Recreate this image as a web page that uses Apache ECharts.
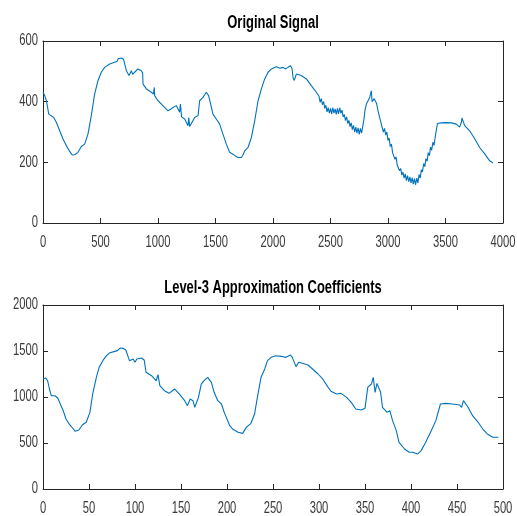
<!DOCTYPE html>
<html>
<head>
<meta charset="utf-8">
<script src="https://cdn.jsdelivr.net/npm/echarts@6/dist/echarts.min.js"></script>
<style>html,body{margin:0;padding:0;background:#fff}#c{width:517px;height:516px}</style>
</head>
<body>
<div id="c"></div>
<script>
// Original signal: sample positions and values
const topX = [0,15,30,50,60,70,80,93,116,145,174,203,232,255,275,304,333,362,391,420,449,478,507,536,580,623,645,652,681,700,710,725,748,760,768,780,797,826,855,866,870,899,942,960,968,971,1000,1043,1087,1110,1130,1159,1180,1188,1195,1205,1232,1261,1268,1275,1290,1319,1335,1348,1362,1391,1420,1440,1449,1465,1478,1490,1507,1536,1565,1594,1623,1652,1670,1696,1725,1740,1754,1783,1812,1841,1870,1899,1928,1957,1986,2029,2060,2087,2110,2130,2151,2165,2174,2185,2203,2220,2246,2290,2333,2377,
  2400,2410,2420,2430,2440,2450,2460,2470,2480,2490,2500,2510,2520,2530,2540,2550,2560,2570,2580,2590,2600,2610,2620,2630,2640,2650,2660,2670,2680,2690,2700,2710,2720,2730,2740,2750,2760,2770,2780,2790,2800,
  2812,2841,2855,2862,2870,2880,2893,2900,2913,2942,
  2950,2960,2970,2980,2990,3000,3010,3020,3030,3040,3050,3060,3070,3080,3090,3100,3110,3120,3130,3140,3150,3160,3170,3180,3190,3200,3210,3220,3230,3240,3250,3260,3270,3280,3290,3300,3310,3320,3330,3340,3350,3360,3370,3380,3390,3400,3410,3420,3430,
  3464,3500,3551,3594,3623,3638,3643,3667,3710,3754,3797,3841,3884,3913];
const topY = [431,420,403,359,362,354,357,348,332,304,277,255,236,224,225,233,252,260,293,354,425,469,497,513,524,530,533,541,544,540,535,502,486,495,502,490,497,508,502,495,458,442,431,425,447,420,403,387,370,375,381,387,372,365,392,350,343,321,348,318,315,348,350,354,403,414,431,420,414,380,359,360,343,326,293,260,233,227,222,216,216,225,238,249,282,337,403,442,475,497,508,515,510,513,508,513,519,510,480,470,491,485,486,475,453,431,
  418,398,410,390,400,378,388,366,380,362,378,360,380,362,376,358,378,360,380,362,372,350,358,338,350,328,338,318,330,308,322,300,316,296,314,292,312,296,318,340,372,
  392,414,436,400,398,410,414,395,370,326,
  320,300,312,290,300,272,280,252,260,232,238,210,218,192,198,172,180,158,168,148,162,140,156,136,152,132,150,128,146,126,148,132,160,148,176,168,196,186,212,204,232,222,250,240,266,256,282,276,328,
  330,331,330,326,316,332,346,321,304,278,249,228,205,198];

// Level-3 approximation coefficients
const botX = [0,3,5,7,9,11,13,14,16,18,22,25,29,33,35,37,39,43,47,51,54,58,61,65,69,72,78,81,84,87,90,94,96,98,100,102,107,110,112,118,123,125,127,132,137,143,148,154,157,160,163,165,169,172,175,179,183,186,190,194,197,203,206,212,217,221,226,230,233,237,241,244,248,253,259,264,269,271,275,278,282,288,293,299,304,310,313,319,324,330,335,340,346,350,353,357,359,361,363,367,369,374,377,380,384,387,393,398,402,407,411,416,422,427,432,438,445,453,455,457,462,467,473,478,483,489,495];
const botY = [1196,1206,1177,1087,1014,996,1014,996,989,942,851,761,699,652,627,630,641,699,725,833,1033,1214,1322,1395,1449,1478,1496,1504,1533,1529,1511,1395,1384,1413,1377,1413,1424,1402,1268,1232,1177,1243,1123,1069,1040,1087,1033,960,906,978,960,888,996,1141,1177,1214,1159,1051,960,924,833,688,652,616,605,670,714,815,996,1214,1304,1395,1431,1449,1442,1431,1456,1431,1330,1377,1366,1348,1304,1250,1196,1105,1062,1033,1040,996,942,870,859,877,1105,1141,1214,1051,1148,1051,888,833,851,743,634,507,435,399,399,380,417,507,634,743,924,931,924,913,888,960,888,797,725,652,598,562,562];

const titles = ['Original Signal', 'Level-3 Approximation Coefficients'];
const topXTicks = {min: 0, max: 4000, interval: 500};
const topYTicks = {min: 0, max: 600, interval: 200};
const botXTicks = {min: 0, max: 500, interval: 50};
const botYTicks = {min: 0, max: 2000, interval: 500};

const AX = '#262626';
const LABEL_FONT = '16px "Liberation Sans", Arial, sans-serif';
const SQUEEZE = 0.7;
function axis(grid, pos, t) {
  return {
    type: 'value', gridIndex: grid, position: pos, min: t.min, max: t.max, interval: t.interval,
    axisLine: {show: true, onZero: false, lineStyle: {color: AX, width: 1}},
    axisTick: {show: true, inside: true, length: 5, lineStyle: {color: AX}},
    splitLine: {show: false},
    axisLabel: {show: false}
  };
}
function titleText(txt, y) {
  return {
    type: 'text', x: 273, y: y, scaleX: 0.72, scaleY: 1, silent: true,
    style: {text: txt, font: 'bold 18px "Liberation Sans", Arial, sans-serif', fill: '#000',
      textAlign: 'center', textVerticalAlign: 'middle'}
  };
}
function ticks(t) { const a = []; for (let v = t.min; v <= t.max; v += t.interval) a.push(v); return a; }

const chart = echarts.init(document.getElementById('c'), null, {renderer: 'canvas'});
chart.setOption({
  animation: false,
  backgroundColor: '#fff',
  grid: [
    {left: 43, top: 41, width: 460, height: 182, containLabel: false, outerBoundsMode: 'none'},
    {left: 43, top: 305, width: 460, height: 184, containLabel: false, outerBoundsMode: 'none'}
  ],
  xAxis: [axis(0, 'bottom', topXTicks), axis(0, 'top', topXTicks), axis(1, 'bottom', botXTicks), axis(1, 'top', botXTicks)],
  yAxis: [axis(0, 'left', topYTicks), axis(0, 'right', topYTicks), axis(1, 'left', botYTicks), axis(1, 'right', botYTicks)],
  series: [
    {type: 'line', xAxisIndex: 0, yAxisIndex: 0, showSymbol: false, data: topX.map((x, i) => [x, topY[i]]), lineStyle: {color: '#0072BD', width: 1.1}, itemStyle: {color: '#0072BD'}},
    {type: 'line', xAxisIndex: 2, yAxisIndex: 2, showSymbol: false, data: botX.map((x, i) => [x, botY[i]]), lineStyle: {color: '#0072BD', width: 1.1}, itemStyle: {color: '#0072BD'}}
  ]
});

// Tick labels placed through the axes' own scales (narrow MATLAB-like lettering)
const gfx = [titleText(titles[0], 23), titleText(titles[1], 288)];
function addLabels(xi, yi, xt, yt) {
  const finder = {xAxisIndex: xi, yAxisIndex: yi};
  ticks(xt).forEach(v => {
    const p = chart.convertToPixel(finder, [v, yt.min]);
    gfx.push({type: 'text', x: p[0], y: p[1] + 20, scaleX: SQUEEZE, silent: true,
      style: {text: String(v), font: LABEL_FONT, fill: '#3a3a3a', textAlign: 'center', textVerticalAlign: 'middle'}});
  });
  ticks(yt).forEach(v => {
    const p = chart.convertToPixel(finder, [xt.min, v]);
    gfx.push({type: 'text', x: p[0] - 5, y: p[1], scaleX: SQUEEZE, silent: true,
      style: {text: String(v), font: LABEL_FONT, fill: '#3a3a3a', textAlign: 'right', textVerticalAlign: 'middle'}});
  });
}
addLabels(0, 0, topXTicks, topYTicks);
addLabels(2, 2, botXTicks, botYTicks);
chart.setOption({graphic: gfx});
</script>
</body>
</html>
